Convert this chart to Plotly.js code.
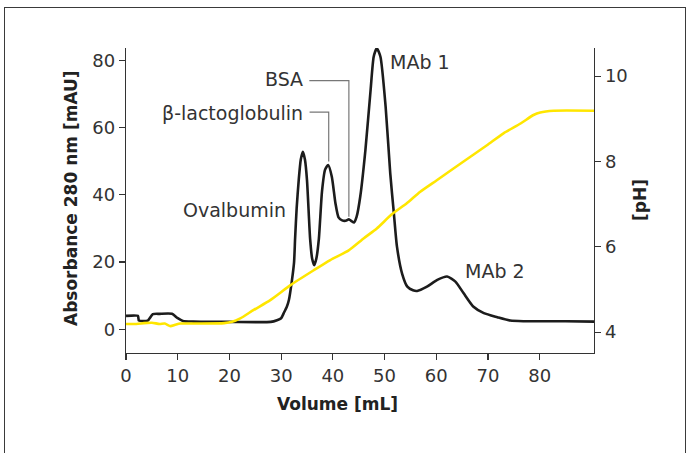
<!DOCTYPE html>
<html>
<head>
<meta charset="utf-8">
<script src="https://cdn.plot.ly/plotly-3.0.1.min.js"></script>
<style>
  html, body { margin: 0; padding: 0; background: #fff; }
  #frame { position: absolute; left: 4px; top: 7px; width: 682px; height: 470px; border: 1.5px solid #3a3a3a; box-sizing: border-box; }
  #chart { position: absolute; left: 0; top: 0; width: 691px; height: 453px; }
</style>
</head>
<body>
<div id="frame"></div>
<div id="chart"></div>
<script>
// Absorbance 280 nm [mAU] vs volume [mL]
const absVolume = [0, 2.3, 2.5, 4.2, 5.2, 6.5, 8.9, 10.0, 11.0, 13, 20, 28.0, 29.2, 30.0, 30.5, 31.1, 31.5, 32.1, 32.5, 32.7, 33.0, 33.4, 33.8, 34.2, 34.6, 35.0, 35.6, 36.0, 36.4, 36.8, 37.3, 37.9, 38.5, 39.1, 39.8, 40.5, 41.1, 41.8, 42.5, 43.1, 43.6, 44.1, 44.6, 45.3, 46.3, 47.3, 47.9, 48.5, 49.2, 50.2, 51.1, 51.8, 52.4, 53.4, 54.4, 55.5, 56.3, 58.2, 60.2, 62.1, 63.7, 65.3, 67.2, 69.2, 71.8, 74.3, 76.9, 85, 90.5];
const absorbance = [4.0, 4.0, 2.6, 2.6, 4.5, 4.6, 4.6, 3.3, 2.5, 2.3, 2.2, 2.2, 2.7, 3.3, 4.8, 6.7, 8.7, 14.7, 20, 27, 36, 44.4, 50.5, 52.8, 50.5, 44.4, 27, 21, 19.1, 21, 27, 41, 47.5, 48.9, 45.4, 37.5, 33.3, 32.4, 32.3, 32.7, 32.2, 31.8, 33.5, 39.5, 53.4, 71.2, 81.1, 83.6, 81.1, 66.3, 46.4, 34.5, 24.6, 16.5, 12.7, 11.6, 11.4, 12.7, 14.7, 15.7, 14.2, 10.7, 6.7, 4.8, 3.6, 2.6, 2.4, 2.4, 2.3];

// pH vs volume [mL]
const phVolume = [0, 2, 3.5, 5, 6.5, 7.5, 8.6, 9.5, 10.5, 14, 19, 20.5, 22.1, 24.7, 27.9, 31.8, 36.3, 39.5, 43.0, 46.0, 48.5, 51.4, 54.3, 56.9, 60.1, 63.4, 66.6, 69.8, 73.0, 76.3, 78.8, 80.1, 82.7, 90.5];
const phValues = [4.19, 4.19, 4.21, 4.22, 4.19, 4.2, 4.14, 4.17, 4.2, 4.2, 4.21, 4.24, 4.32, 4.52, 4.75, 5.10, 5.45, 5.69, 5.91, 6.20, 6.43, 6.76, 7.02, 7.29, 7.56, 7.84, 8.11, 8.38, 8.66, 8.89, 9.09, 9.15, 9.19, 9.19];

// Axis ticks
const xTicks = [0, 10, 20, 30, 40, 50, 60, 70, 80];
const yTicks = [0, 20, 40, 60, 80];
const pHTicks = [4, 6, 8, 10];

// Peak labels
const peakLabels = ["MAb 1", "BSA", "β-lactoglobulin", "Ovalbumin", "MAb 2"];
const peakLabelX = [50.7, 34.7, 34.7, 31.4, 65.2];
const peakLabelY = [79.6, 74.5, 64.4, 35.5, 17.4];
const peakLabelAnchor = ["left", "right", "right", "right", "left"];

const FONT = "DejaVu Sans";
const textColor = "#333";

const traces = [
  {
    x: phVolume, y: phValues, yaxis: "y2", type: "scatter", mode: "lines",
    line: { color: "#ffe600", width: 2.6, shape: "spline", smoothing: 0.6 },
    hoverinfo: "skip"
  },
  {
    x: absVolume, y: absorbance, type: "scatter", mode: "lines",
    line: { color: "#1c1c1c", width: 2.6, shape: "spline", smoothing: 0.6 },
    hoverinfo: "skip"
  }
];

const annotations = peakLabels.map((t, i) => ({
  text: t, x: peakLabelX[i], y: peakLabelY[i], xref: "x", yref: "y",
  xanchor: peakLabelAnchor[i], yanchor: "middle", showarrow: false,
  font: { family: FONT, size: 19, color: textColor }
}));

annotations.push(
  { text: "Absorbance 280 nm [mAU]", xref: "paper", yref: "paper", x: -0.1186, y: 0.5098,
    textangle: -90, showarrow: false, xanchor: "center", yanchor: "middle",
    font: { family: FONT, size: 17, color: "#222", weight: "bold" } },
  { text: "Volume [mL]", xref: "paper", yref: "paper", x: 0.4509, y: -0.167,
    showarrow: false, xanchor: "center", yanchor: "middle",
    font: { family: FONT, size: 17, color: "#222", weight: "bold" } },
  { text: "[pH]", xref: "paper", yref: "paper", x: 1.0983, y: 0.5016,
    textangle: -90, showarrow: false, xanchor: "center", yanchor: "middle",
    font: { family: FONT, size: 17, color: "#222", weight: "bold" } }
);

const axisCommon = {
  showgrid: false, zeroline: false, showline: true, linecolor: "#333", linewidth: 1.3,
  ticks: "outside", ticklen: 6, tickwidth: 1.2, tickcolor: "#333",
  tickfont: { family: FONT, size: 18, color: textColor }
};

const layout = {
  width: 691, height: 453,
  margin: { l: 126, r: 97, t: 48, b: 100 },
  paper_bgcolor: "rgba(0,0,0,0)", plot_bgcolor: "rgba(0,0,0,0)",
  showlegend: false,
  xaxis: Object.assign({}, axisCommon, { range: [0, 90.5], tickvals: xTicks }),
  yaxis: Object.assign({}, axisCommon, { range: [-7.05, 83.7], tickvals: yTicks }),
  yaxis2: Object.assign({}, axisCommon, { range: [3.51, 10.66], tickvals: pHTicks, overlaying: "y", side: "right" }),
  annotations: annotations,
  shapes: [
    { type: "path", xref: "x", yref: "y", path: "M 35.45 74 L 43.1 74 L 43.1 33.5",
      line: { color: "#777", width: 1.2 } },
    { type: "path", xref: "x", yref: "y", path: "M 35.5 64.6 L 39.2 64.6 L 39.2 49.9",
      line: { color: "#777", width: 1.2 } }
  ]
};

Plotly.newPlot("chart", traces, layout, { staticPlot: true, displayModeBar: false });
</script>
</body>
</html>
